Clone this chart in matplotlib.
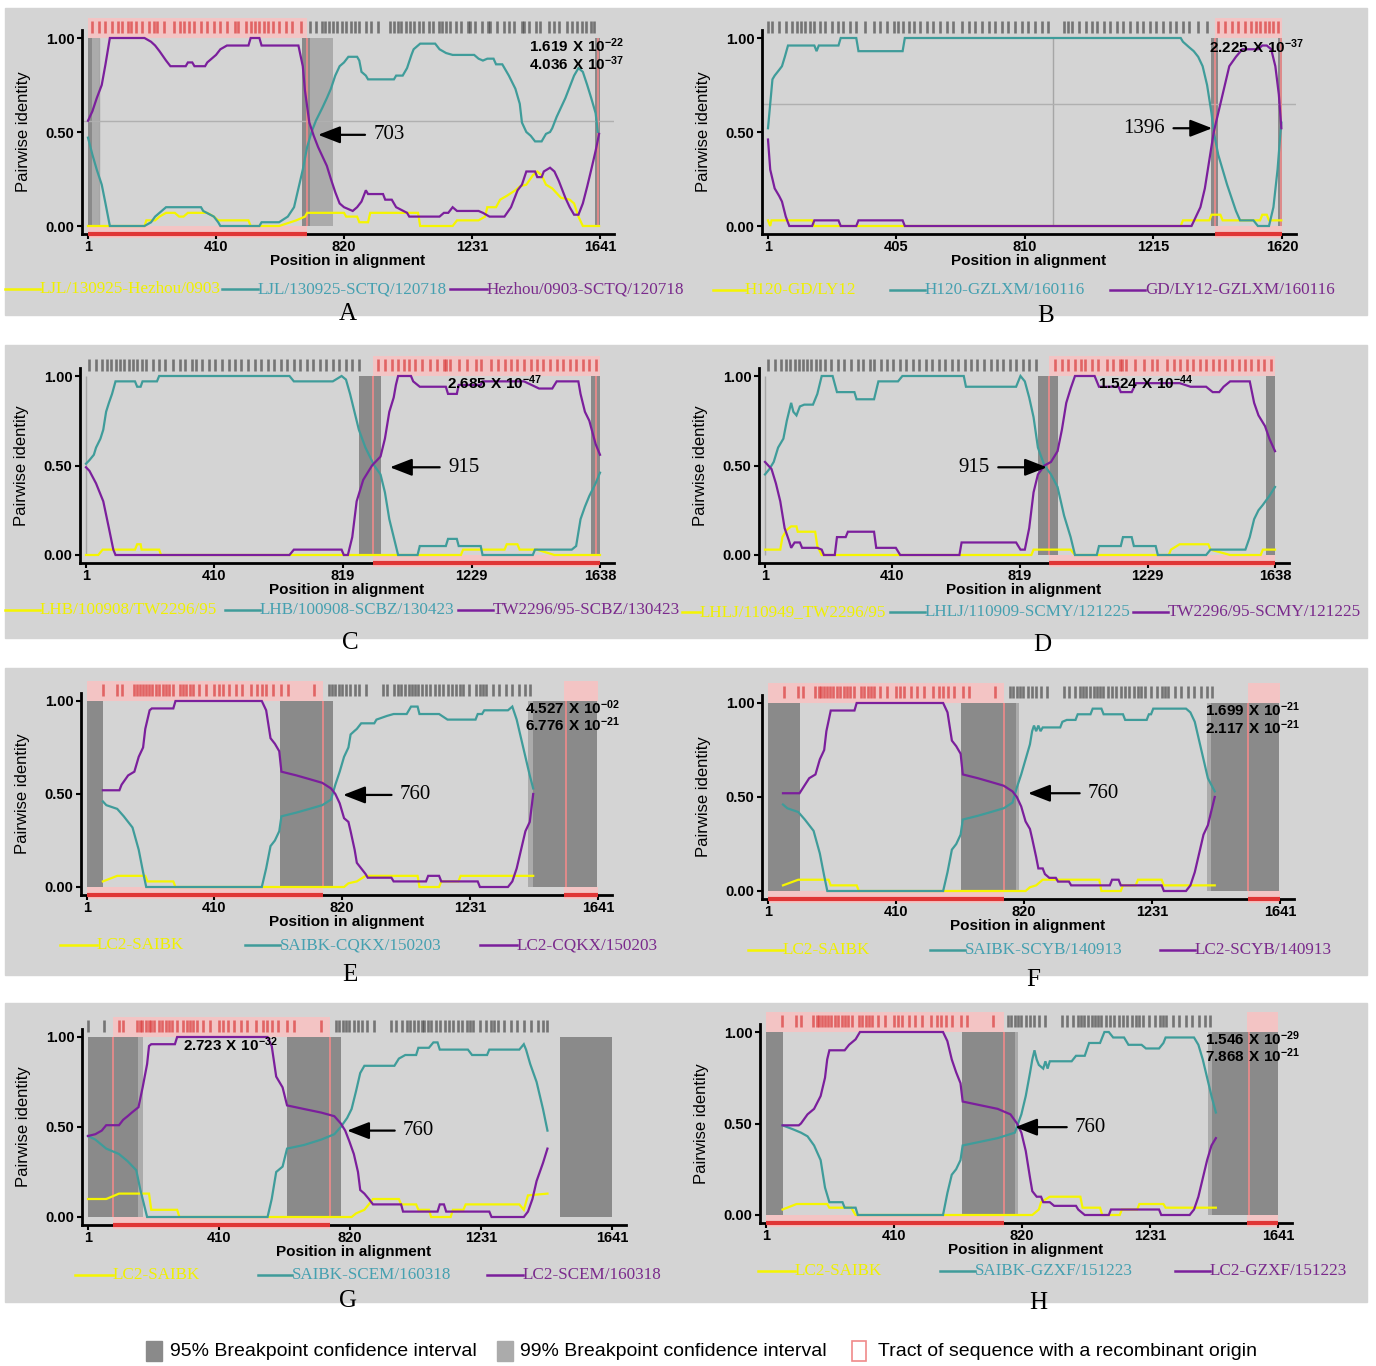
import matplotlib.pyplot as plt
from matplotlib.patches import Rectangle
from matplotlib.lines import Line2D

plt.rcParams['font.family'] = ['Liberation Sans', 'DejaVu Sans']
plt.rcParams['mathtext.fontset'] = 'custom'
plt.rcParams['mathtext.rm'] = 'Liberation Sans'
plt.rcParams['mathtext.bf'] = 'Liberation Sans:bold'
SERIF = ['Liberation Serif', 'DejaVu Serif']

BG = '#d4d4d4'
YEL, TEAL, PURP = '#f5f500', '#3f9c9a', '#7b1f9c'
YEL_TXT, TEAL_TXT, PURP_TXT = '#f0f000', '#45a0b0', '#7a2a8c'
DARK95, LIGHT99 = '#8a8a8a', '#ababab'
PINK, RED, BPLINE = '#f3c4c4', '#e03535', '#f08a8a'

# ---------------- data (position in alignment, pairwise identity) ----------------
a_yellow = [(1,0.0),(182,0.0),(188,0.03),(216,0.03),(230,0.05),(251,0.07),(279,0.07),(293,0.05),(307,0.05),
            (321,0.07),(383,0.07),(404,0.05),(418,0.03),(515,0.03),(522,0.0),(613,0.0),(668,0.03),(696,0.05),
            (703,0.07),(821,0.07),(828,0.05),(863,0.05),(870,0.02),(898,0.02),(905,0.07),(1058,0.07),(1065,0.0),
            (1169,0.0),(1183,0.03),(1252,0.03),(1273,0.05),(1280,0.1),(1308,0.1),(1321,0.14),(1342,0.16),
            (1370,0.19),(1384,0.21),(1405,0.22),(1426,0.27),(1440,0.29),(1454,0.27),(1468,0.22),(1488,0.2),
            (1516,0.15),(1544,0.14),(1558,0.12),(1572,0.05),(1586,0.0),(1638,0.0)]
a_teal = [(1,0.47),(15,0.38),(29,0.3),(45,0.22),(57,0.12),(71,0.0),(182,0.0),(203,0.02),(216,0.05),(230,0.07),
          (251,0.1),(363,0.1),(370,0.08),(404,0.05),(418,0.02),(425,0.0),(550,0.0),(557,0.02),(613,0.02),
          (641,0.05),(661,0.1),(675,0.2),(689,0.3),(703,0.42),(717,0.5),(731,0.56),(752,0.63),(766,0.68),
          (779,0.73),(793,0.8),(807,0.85),(821,0.87),(835,0.9),(863,0.9),(870,0.88),(877,0.82),(891,0.8),
          (898,0.78),(981,0.78),(988,0.8),(1009,0.8),(1023,0.84),(1037,0.91),(1044,0.94),(1065,0.97),
          (1113,0.97),(1127,0.94),(1148,0.92),(1169,0.91),(1238,0.91),(1252,0.89),(1266,0.88),(1280,0.89),
          (1300,0.89),(1308,0.86),(1328,0.86),(1349,0.8),(1370,0.73),(1384,0.65),(1391,0.55),(1405,0.5),
          (1419,0.48),(1433,0.45),(1454,0.45),(1468,0.49),(1481,0.5),(1488,0.52),(1502,0.58),(1516,0.63),
          (1530,0.68),(1544,0.74),(1558,0.8),(1572,0.84),(1586,0.82),(1600,0.75),(1613,0.68),(1627,0.6),
          (1634,0.5)]
a_purple = [(1,0.56),(15,0.61),(29,0.68),(45,0.75),(57,0.86),(71,1.0),(182,1.0),(203,0.98),(216,0.96),
            (230,0.93),(251,0.88),(265,0.85),(314,0.85),(321,0.87),(335,0.87),(342,0.85),(376,0.85),(383,0.87),
            (397,0.89),(411,0.91),(425,0.94),(446,0.96),(515,0.96),(522,1.0),(550,1.0),(557,0.96),(675,0.96),
            (689,0.85),(696,0.72),(710,0.55),(724,0.48),(738,0.42),(752,0.37),(766,0.32),(779,0.25),(793,0.18),
            (807,0.12),(821,0.1),(849,0.08),(863,0.1),(877,0.13),(891,0.19),(898,0.17),(946,0.17),(953,0.14),
            (974,0.14),(988,0.1),(1023,0.07),(1030,0.05),(1127,0.05),(1141,0.07),(1155,0.07),(1169,0.1),
            (1183,0.08),(1252,0.08),(1266,0.07),(1287,0.05),(1335,0.05),(1356,0.1),(1377,0.19),(1391,0.22),
            (1405,0.29),(1433,0.29),(1440,0.26),(1454,0.26),(1461,0.29),(1481,0.31),(1495,0.29),(1509,0.24),
            (1530,0.15),(1544,0.1),(1558,0.06),(1572,0.06),(1586,0.12),(1600,0.21),(1613,0.3),(1627,0.4),
            (1638,0.49)]

b_yellow = [(1,0.03),(8,0.0),(12,0.03),(140,0.03),(147,0.0),(1301,0.0),(1308,0.03),(1391,0.03),(1398,0.06),
            (1426,0.06),(1433,0.03),(1551,0.03),(1558,0.06),(1572,0.06),(1579,0.03),(1618,0.03)]
b_teal = [(1,0.52),(8,0.65),(15,0.78),(22,0.8),(36,0.83),(45,0.85),(54,0.9),(64,0.96),(147,0.96),(154,0.93),
          (161,0.96),(223,0.96),(230,1.0),(279,1.0),(286,0.93),(425,0.93),(432,1.0),(1301,1.0),(1308,0.98),
          (1328,0.95),(1342,0.93),(1356,0.9),(1370,0.85),(1384,0.75),(1398,0.6),(1405,0.5),(1419,0.38),
          (1433,0.3),(1447,0.22),(1461,0.15),(1475,0.08),(1488,0.03),(1530,0.03),(1544,0.0),(1579,0.0),
          (1593,0.1),(1606,0.3),(1613,0.45),(1618,0.55)]
b_purple = [(1,0.46),(8,0.3),(15,0.25),(22,0.2),(36,0.16),(45,0.13),(57,0.05),(68,0.0),(140,0.0),(147,0.03),
            (223,0.03),(230,0.0),(279,0.0),(286,0.03),(425,0.03),(432,0.0),(1335,0.0),(1349,0.05),(1363,0.1),
            (1377,0.2),(1391,0.35),(1405,0.5),(1419,0.6),(1440,0.75),(1454,0.85),(1475,0.9),(1495,0.94),
            (1544,0.94),(1558,0.96),(1572,0.96),(1586,0.94),(1599,0.85),(1610,0.7),(1618,0.52)]

c_yellow = [(1,0.0),(40,0.0),(54,0.03),(157,0.03),(164,0.06),(175,0.06),(178,0.03),(234,0.03),(240,0.0),
            (1195,0.0),(1202,0.03),(1334,0.03),(1341,0.06),(1375,0.06),(1382,0.03),(1437,0.03),(1493,0.0),
            (1638,0.0)]
c_teal = [(1,0.51),(12,0.53),(26,0.56),(33,0.6),(47,0.65),(56,0.7),(65,0.8),(74,0.85),(84,0.9),(95,0.97),
          (157,0.97),(164,0.94),(175,0.94),(181,0.97),(227,0.97),(234,1.0),(649,1.0),(663,0.97),(787,0.97),
          (815,1.0),(829,0.98),(842,0.9),(856,0.8),(870,0.7),(891,0.6),(919,0.5),(939,0.45),(953,0.35),
          (967,0.2),(981,0.1),(995,0.0),(1057,0.0),(1064,0.05),(1147,0.05),(1154,0.09),(1182,0.09),(1188,0.05),
          (1258,0.05),(1264,0.0),(1424,0.0),(1431,0.03),(1548,0.03),(1562,0.05),(1576,0.2),(1590,0.27),
          (1604,0.33),(1624,0.4),(1638,0.46)]
c_purple = [(1,0.49),(12,0.47),(33,0.4),(56,0.3),(74,0.15),(88,0.03),(95,0.0),(649,0.0),(663,0.03),(815,0.03),
            (822,0.0),(835,0.0),(849,0.1),(863,0.3),(884,0.42),(912,0.5),(939,0.55),(953,0.65),(967,0.8),
            (981,0.88),(988,0.95),(995,1.0),(1036,1.0),(1043,0.97),(1064,0.94),(1147,0.94),(1154,0.9),
            (1182,0.9),(1188,0.95),(1258,0.95),(1264,0.97),(1396,0.97),(1444,0.93),(1486,0.93),(1500,0.97),
            (1569,0.97),(1576,0.9),(1590,0.8),(1604,0.75),(1624,0.62),(1638,0.56)]

d_yellow = [(1,0.03),(50,0.03),(57,0.1),(71,0.14),(85,0.16),(102,0.16),(106,0.13),(162,0.13),(169,0.05),
            (183,0.0),(856,0.0),(863,0.03),(982,0.03),(996,0.0),(1297,0.0),(1304,0.03),(1332,0.06),(1424,0.06),
            (1431,0.03),(1494,0.0),(1592,0.0),(1599,0.03),(1638,0.03)]
d_teal = [(1,0.45),(15,0.48),(29,0.52),(43,0.6),(60,0.65),(71,0.75),(85,0.85),(92,0.8),(102,0.78),(113,0.83),
          (127,0.84),(155,0.84),(169,0.9),(183,1.0),(218,1.0),(232,0.91),(288,0.91),(295,0.87),(351,0.87),
          (365,0.97),(428,0.97),(442,1.0),(639,1.0),(646,0.94),(807,0.94),(821,1.0),(835,0.97),(849,0.88),
          (863,0.77),(877,0.6),(898,0.5),(919,0.45),(940,0.38),(961,0.22),(982,0.1),(996,0.0),(1066,0.0),
          (1073,0.05),(1143,0.05),(1150,0.1),(1178,0.1),(1185,0.05),(1255,0.05),(1262,0.0),(1417,0.0),
          (1431,0.03),(1543,0.03),(1557,0.1),(1571,0.2),(1585,0.25),(1599,0.28),(1620,0.33),(1638,0.38)]
d_purple = [(1,0.52),(22,0.48),(36,0.4),(50,0.3),(64,0.15),(78,0.08),(85,0.04),(96,0.07),(113,0.07),(120,0.04),
            (169,0.04),(183,0.03),(190,0.0),(225,0.0),(232,0.1),(260,0.1),(267,0.13),(351,0.13),(358,0.04),
            (421,0.04),(435,0.0),(625,0.0),(632,0.07),(807,0.07),(821,0.03),(835,0.03),(849,0.15),(863,0.35),
            (877,0.45),(898,0.5),(919,0.52),(940,0.58),(954,0.7),(968,0.85),(982,0.93),(996,1.0),(1059,1.0),
            (1073,0.94),(1136,0.94),(1143,0.91),(1178,0.91),(1192,0.96),(1332,0.96),(1367,0.94),(1417,0.94),
            (1438,0.91),(1459,0.91),(1473,0.94),(1494,0.97),(1557,0.97),(1571,0.85),(1585,0.78),(1606,0.72),
            (1620,0.65),(1638,0.58)]

e_yellow = [(52,0.03),(98,0.06),(188,0.06),(195,0.03),(278,0.03),(285,0.0),(826,0.0),(840,0.02),(867,0.03),
            (895,0.06),(1062,0.06),(1068,0.0),(1131,0.0),(1138,0.03),(1193,0.03),(1200,0.06),(1366,0.06),
            (1433,0.06)]
e_teal = [(52,0.46),(63,0.44),(98,0.42),(119,0.38),(147,0.32),(167,0.2),(181,0.08),(191,0.0),(562,0.0),
          (576,0.1),(590,0.22),(604,0.25),(618,0.3),(625,0.38),(673,0.4),(715,0.42),(756,0.44),(784,0.47),
          (798,0.55),(812,0.62),(826,0.7),(840,0.75),(847,0.82),(860,0.84),(867,0.85),(881,0.88),(923,0.88),
          (930,0.9),(964,0.92),(985,0.93),(1027,0.93),(1041,0.97),(1062,0.97),(1068,0.93),(1131,0.93),
          (1158,0.9),(1248,0.9),(1255,0.93),(1269,0.93),(1276,0.95),(1352,0.95),(1366,0.97),(1380,0.9),
          (1394,0.8),(1408,0.7),(1422,0.6),(1433,0.53)]
e_purple = [(52,0.52),(105,0.52),(112,0.55),(133,0.6),(153,0.62),(167,0.7),(181,0.75),(188,0.85),(202,0.95),
            (209,0.96),(278,0.96),(285,1.0),(562,1.0),(576,0.95),(590,0.8),(604,0.77),(618,0.73),(625,0.62),
            (673,0.6),(715,0.58),(756,0.56),(784,0.53),(798,0.5),(812,0.45),(826,0.37),(840,0.35),(847,0.3),
            (860,0.2),(867,0.13),(881,0.1),(895,0.07),(902,0.05),(978,0.05),(985,0.03),(1089,0.03),(1096,0.06),
            (1131,0.06),(1138,0.03),(1255,0.03),(1262,0.0),(1352,0.0),(1366,0.03),(1380,0.1),(1394,0.2),
            (1408,0.3),(1422,0.35),(1433,0.5)]

f_yellow = [(49,0.03),(98,0.06),(195,0.06),(202,0.03),(285,0.03),(292,0.0),(826,0.0),(840,0.02),(860,0.03),
            (881,0.06),(1062,0.06),(1069,0.0),(1131,0.0),(1138,0.03),(1179,0.03),(1186,0.06),(1262,0.06),
            (1269,0.03),(1432,0.03)]
f_teal = [(49,0.46),(63,0.44),(98,0.42),(119,0.38),(147,0.32),(167,0.2),(181,0.08),(191,0.0),(562,0.0),
          (576,0.1),(590,0.22),(604,0.25),(618,0.3),(625,0.38),(673,0.4),(715,0.42),(756,0.44),(784,0.47),
          (798,0.55),(812,0.62),(826,0.7),(840,0.78),(847,0.85),(853,0.88),(860,0.85),(867,0.88),(874,0.85),
          (881,0.87),(937,0.87),(944,0.9),(958,0.91),(986,0.91),(993,0.94),(1034,0.94),(1041,0.97),(1069,0.97),
          (1076,0.94),(1138,0.94),(1145,0.91),(1214,0.91),(1221,0.94),(1228,0.94),(1235,0.97),(1340,0.97),
          (1354,0.95),(1368,0.9),(1382,0.8),(1396,0.7),(1410,0.6),(1432,0.53)]
f_purple = [(49,0.52),(102,0.52),(133,0.6),(153,0.62),(167,0.7),(181,0.75),(188,0.85),(202,0.96),(278,0.96),
            (285,1.0),(562,1.0),(576,0.95),(590,0.8),(604,0.77),(618,0.73),(625,0.62),(673,0.6),(715,0.58),
            (756,0.56),(784,0.53),(798,0.5),(812,0.45),(826,0.37),(840,0.33),(847,0.28),(860,0.18),(867,0.12),
            (881,0.12),(888,0.09),(902,0.07),(923,0.07),(930,0.05),(965,0.05),(972,0.03),(1096,0.03),(1103,0.06),
            (1124,0.06),(1131,0.03),(1262,0.03),(1269,0.0),(1340,0.0),(1354,0.03),(1368,0.1),(1382,0.2),
            (1396,0.3),(1410,0.35),(1432,0.5)]

g_yellow = [(1,0.1),(58,0.1),(85,0.12),(98,0.13),(192,0.13),(199,0.04),(280,0.04),(287,0.0),(826,0.0),
            (840,0.02),(866,0.04),(880,0.07),(893,0.1),(974,0.1),(981,0.07),(1028,0.07),(1035,0.04),(1068,0.04),
            (1075,0.0),(1136,0.0),(1143,0.04),(1176,0.04),(1183,0.07),(1351,0.07),(1365,0.04),(1378,0.12),
            (1439,0.13)]
g_teal = [(1,0.45),(24,0.43),(58,0.38),(98,0.35),(125,0.31),(152,0.26),(165,0.15),(179,0.05),(186,0.0),
          (563,0.0),(576,0.1),(590,0.25),(610,0.28),(624,0.38),(677,0.4),(731,0.43),(772,0.46),(792,0.5),
          (812,0.55),(826,0.6),(840,0.7),(853,0.8),(866,0.84),(960,0.84),(974,0.88),(994,0.9),(1028,0.9),
          (1035,0.94),(1068,0.94),(1082,0.97),(1095,0.97),(1102,0.93),(1190,0.93),(1203,0.9),(1250,0.9),
          (1257,0.93),(1351,0.93),(1365,0.96),(1372,0.93),(1385,0.85),(1405,0.75),(1425,0.6),(1439,0.48)]
g_purple = [(1,0.45),(24,0.46),(44,0.48),(58,0.51),(98,0.51),(111,0.54),(125,0.56),(138,0.58),(159,0.61),
            (172,0.72),(186,0.85),(192,0.95),(199,0.96),(273,0.96),(280,1.0),(563,1.0),(576,0.95),(590,0.78),
            (610,0.72),(624,0.62),(677,0.6),(731,0.58),(772,0.56),(792,0.52),(806,0.48),(819,0.42),(833,0.35),
            (846,0.25),(853,0.15),(866,0.13),(880,0.1),(893,0.07),(981,0.07),(987,0.03),(1095,0.03),(1102,0.07),
            (1115,0.07),(1122,0.03),(1257,0.03),(1264,0.0),(1365,0.0),(1378,0.03),(1392,0.1),(1405,0.2),
            (1425,0.3),(1439,0.38)]

h_yellow = [(54,0.03),(99,0.06),(197,0.06),(204,0.04),(274,0.04),(288,0.0),(854,0.0),(875,0.03),(882,0.07),
            (910,0.1),(1008,0.1),(1015,0.04),(1071,0.04),(1078,0.0),(1134,0.0),(1141,0.03),(1190,0.03),
            (1197,0.06),(1274,0.06),(1281,0.04),(1442,0.04)]
h_teal = [(54,0.49),(85,0.47),(113,0.45),(134,0.43),(155,0.38),(176,0.3),(190,0.15),(204,0.07),(246,0.07),
          (253,0.04),(288,0.04),(295,0.0),(568,0.0),(582,0.12),(596,0.22),(610,0.25),(624,0.3),(631,0.38),
          (687,0.4),(743,0.42),(798,0.45),(819,0.55),(833,0.65),(847,0.78),(854,0.85),(861,0.9),(868,0.85),
          (875,0.82),(889,0.8),(896,0.84),(903,0.8),(910,0.84),(980,0.84),(994,0.87),(1022,0.87),(1036,0.94),
          (1071,0.94),(1085,1.0),(1099,1.0),(1113,0.97),(1148,0.97),(1162,0.93),(1204,0.93),(1218,0.91),
          (1260,0.91),(1274,0.94),(1281,0.97),(1372,0.97),(1386,0.93),(1400,0.85),(1414,0.75),(1428,0.65),
          (1442,0.56)]
h_purple = [(54,0.49),(106,0.49),(113,0.5),(134,0.55),(155,0.58),(176,0.65),(190,0.75),(197,0.85),(204,0.9),
            (253,0.9),(267,0.93),(288,0.96),(302,1.0),(568,1.0),(582,0.95),(596,0.85),(610,0.78),(624,0.72),
            (631,0.62),(687,0.6),(743,0.58),(784,0.55),(805,0.5),(819,0.45),(833,0.35),(847,0.2),(854,0.13),
            (868,0.1),(882,0.1),(889,0.07),(910,0.07),(924,0.05),(994,0.05),(1001,0.03),(1022,0.0),(1099,0.0),
            (1106,0.03),(1260,0.03),(1267,0.0),(1358,0.0),(1372,0.03),(1386,0.1),(1400,0.2),(1414,0.3),
            (1428,0.38),(1442,0.42)]

# informative sites shown in the strip above each plot
sites_a = [15,36,57,77,98,109,129,140,154,175,196,212,223,244,276,296,307,324,342,363,383,404,425,446,471,481,
           508,522,536,550,564,578,592,613,634,655,682,713,731,749,759,773,786,800,814,828,842,856,870,891,907,
           929,967,981,995,1004,1018,1032,1046,1060,1074,1092,1106,1124,1134,1148,1162,1180,1197,1217,1226,1240,
           1262,1281,1290,1311,1335,1349,1366,1390,1398,1415,1436,1450,1477,1493,1509,1534,1551,1566,1583,1597,
           1611,1622]
sites_b = [1,15,36,57,77,91,105,119,133,147,165,182,203,221,237,258,279,307,335,355,376,397,411,425,446,460,481,
           501,522,543,564,585,613,633,654,675,696,717,738,758,779,800,821,842,863,884,932,946,960,981,1002,1023,
           1037,1058,1078,1099,1120,1141,1162,1183,1203,1224,1245,1266,1287,1308,1328,1356,1384,1419,1440,1461,
           1482,1502,1523,1537,1551,1565,1579,1593,1606]
sites_cd = [12,33,51,67,81,98,109,123,137,150,164,178,192,213,234,254,278,300,317,337,351,372,393,413,434,455,476,
            496,517,538,559,580,600,621,642,663,683,704,725,746,766,787,808,829,849,870,932,953,974,995,1015,1029,
            1050,1071,1098,1119,1140,1147,1161,1188,1216,1244,1258,1292,1313,1334,1355,1375,1396,1417,1438,1458,
            1479,1500,1521,1541,1562,1583,1604,1624]
sites_lc2 = [52,98,112,153,163,171,181,191,199,209,223,232,244,255,264,278,299,310,320,330,341,361,382,410,424,438,
             458,479,500,528,548,562,576,597,625,645,729,777,787,798,809,819,833,846,860,874,895,950,964,985,999,
             1009,1020,1034,1045,1054,1064,1075,1089,1103,1117,1131,1144,1158,1172,1186,1197,1207,1228,1248,1262,
             1272,1283,1304,1324,1345,1366,1387,1408,1424]
sites_g = [1,51] + sites_lc2[1:] + [1439]

panels = [
    dict(frame=(88, 600, 38, 226), ticks=[1, 410, 820, 1231, 1641],
         curves=[a_yellow, a_teal, a_purple], sites=sites_a,
         tract=[(1, 703)], ci95=[(1, 14), (685, 712), (1625, 1641)], ci99=[(14, 40), (712, 785)],
         bp=[703, 1636], cross_v=[37], cross_h=[0.56],
         pvals=[r'$\mathbf{1.619\ X\ 10^{-22}}$', r'$\mathbf{4.036\ X\ 10^{-37}}$'], pv_x=1415, pv_y=[0.96, 0.865],
         arrow=('703', 738, 0.485, 915, 'left'),
         labels=['LJL/130925-Hezhou/0903', 'LJL/130925-SCTQ/120718', 'Hezhou/0903-SCTQ/120718'],
         leg_y=289, leg_line=[5, 222, 450], leg_text=[40, 258, 487], letter=('A', 348, 314)),
    dict(frame=(768, 1282, 38, 226), ticks=[1, 405, 810, 1215, 1620],
         curves=[b_yellow, b_teal, b_purple], sites=sites_b,
         tract=[(1408, 1620)], ci95=[(1396, 1418), (1606, 1620)], ci99=[],
         bp=[1410, 1616], cross_v=[899], cross_h=[0.65],
         pvals=[r'$\mathbf{2.225\ X\ 10^{-37}}$'], pv_x=1390, pv_y=[0.955],
         arrow=('1396', 1400, 0.52, 1252, 'right'),
         labels=['H120-GD/LY12', 'H120-GZLXM/160116', 'GD/LY12-GZLXM/160116'],
         leg_y=290, leg_line=[713, 890, 1110], leg_text=[745, 925, 1145], letter=('B', 1046, 316)),
    dict(frame=(86, 600, 376, 555), ticks=[1, 410, 819, 1229, 1638],
         curves=[c_yellow, c_teal, c_purple], sites=sites_cd,
         tract=[(915, 1638)], ci95=[(870, 940), (1610, 1638)], ci99=[],
         bp=[915, 1624], cross_v=[1], cross_h=[],
         pvals=[r'$\mathbf{2.685\ X\ 10^{-47}}$'], pv_x=1150, pv_y=[0.96],
         arrow=('915', 969, 0.49, 1154, 'left'),
         labels=['LHB/100908/TW2296/95', 'LHB/100908-SCBZ/130423', 'TW2296/95-SCBZ/130423'],
         leg_y=610, leg_line=[5, 225, 458], leg_text=[40, 260, 493], letter=('C', 350, 643)),
    dict(frame=(765, 1275, 376, 555), ticks=[1, 410, 819, 1229, 1638],
         curves=[d_yellow, d_teal, d_purple], sites=sites_cd,
         tract=[(912, 1638)], ci95=[(877, 940), (1610, 1638)], ci99=[],
         bp=[912], cross_v=[1], cross_h=[],
         pvals=[r'$\mathbf{1.524\ X\ 10^{-44}}$'], pv_x=1070, pv_y=[0.96],
         arrow=('915', 906, 0.49, 723, 'right'),
         labels=['LHLJ/110949_TW2296/95', 'LHLJ/110909-SCMY/121225', 'TW2296/95-SCMY/121225'],
         leg_y=612, leg_line=[682, 890, 1133], leg_text=[700, 925, 1168], letter=('D', 1042, 645)),
    dict(frame=(87, 598, 701, 887), ticks=[1, 410, 820, 1231, 1641],
         curves=[e_yellow, e_teal, e_purple], sites=sites_lc2,
         tract=[(1, 759), (1533, 1641)], ci95=[(1, 52), (620, 791), (1433, 1637)], ci99=[(1415, 1433)],
         bp=[759, 1539], cross_v=[], cross_h=[],
         pvals=[r'$\mathbf{4.527\ X\ 10^{-02}}$', r'$\mathbf{6.776\ X\ 10^{-21}}$'], pv_x=1407, pv_y=[0.965, 0.87],
         arrow=('760', 823, 0.495, 1005, 'left'),
         labels=['LC2-SAIBK', 'SAIBK-CQKX/150203', 'LC2-CQKX/150203'],
         leg_y=945, leg_line=[60, 245, 480], leg_text=[97, 280, 517], letter=('E', 350, 975)),
    dict(frame=(768, 1280, 703, 891), ticks=[1, 410, 820, 1231, 1641],
         curves=[f_yellow, f_teal, f_purple], sites=sites_lc2,
         tract=[(1, 756), (1539, 1641)], ci95=[(1, 102), (619, 794), (1420, 1638)], ci99=[(794, 804), (1408, 1420)],
         bp=[756, 1539], cross_v=[], cross_h=[],
         pvals=[r'$\mathbf{1.699\ X\ 10^{-21}}$', r'$\mathbf{2.117\ X\ 10^{-21}}$'], pv_x=1401, pv_y=[0.965, 0.87],
         arrow=('760', 834, 0.52, 1026, 'left'),
         labels=['LC2-SAIBK', 'SAIBK-SCYB/140913', 'LC2-SCYB/140913'],
         leg_y=950, leg_line=[748, 930, 1160], leg_text=[783, 965, 1195], letter=('F', 1033, 980)),
    dict(frame=(88, 612, 1037, 1217), ticks=[1, 410, 820, 1231, 1641],
         curves=[g_yellow, g_teal, g_purple], sites=sites_g,
         tract=[(78, 758)], ci95=[(1, 159), (624, 792), (1479, 1641)], ci99=[(159, 172)],
         bp=[78, 758], cross_v=[], cross_h=[],
         pvals=[r'$\mathbf{2.723\ X\ 10^{-32}}$'], pv_x=298, pv_y=[0.955],
         arrow=('760', 812, 0.48, 987, 'left'),
         labels=['LC2-SAIBK', 'SAIBK-SCEM/160318', 'LC2-SCEM/160318'],
         leg_y=1275, leg_line=[75, 258, 487], leg_text=[113, 292, 523], letter=('G', 348, 1301)),
    dict(frame=(766, 1278, 1032, 1215), ticks=[1, 410, 820, 1231, 1641],
         curves=[h_yellow, h_teal, h_purple], sites=sites_lc2,
         tract=[(1, 763), (1543, 1641)], ci95=[(1, 54), (628, 798), (1428, 1641)], ci99=[(798, 808), (1418, 1428)],
         bp=[763, 1547], cross_v=[], cross_h=[],
         pvals=[r'$\mathbf{1.546\ X\ 10^{-29}}$', r'$\mathbf{7.868\ X\ 10^{-21}}$'], pv_x=1407, pv_y=[0.965, 0.87],
         arrow=('760', 799, 0.48, 991, 'left'),
         labels=['LC2-SAIBK', 'SAIBK-GZXF/151223', 'LC2-GZXF/151223'],
         leg_y=1271, leg_line=[758, 940, 1175], leg_text=[795, 975, 1210], letter=('H', 1038, 1303)),
]

W, H = 1376, 1366
fig = plt.figure(figsize=(W / 100, H / 100), dpi=100)

# grey strips behind each row of panels
for top, bot in [(8, 315), (345, 638), (668, 975), (1003, 1302)]:
    fig.add_artist(Rectangle((5 / W, 1 - bot / H), 1362 / W, (bot - top) / H,
                             transform=fig.transFigure, color=BG, zorder=-5))


def draw_panel(p):
    x1, x2, y1, y0 = p['frame']
    xmax = p['ticks'][-1]
    sx = (x2 - x1) / (xmax - 1)
    sy = y0 - y1
    left, right, bottom, top = x1 - 6, x2 + 14, y0 + 8, y1 - 26
    ax = fig.add_axes([left / W, 1 - bottom / H, (right - left) / W, (bottom - top) / H])
    ax.set_facecolor('none')
    ax.set_xlim(1 - 6 / sx, xmax + 14 / sx)
    ybot = -8 / sy
    ax.set_ylim(ybot, 1 + 26 / sy)

    # recombinant tract (top and bottom bands)
    for a, b in p['tract']:
        ax.add_patch(Rectangle((a, 1.0), b - a, 20 / sy, color=PINK, zorder=0.5, lw=0))
        ax.add_patch(Rectangle((a, ybot - 4 / sy), b - a, -ybot + 4 / sy, color=PINK, zorder=0.5,
                               lw=0, clip_on=False))
        ax.plot([a, b], [ybot, ybot], color=RED, lw=3, zorder=5, clip_on=False, solid_capstyle='butt')
    for a, b in p['ci99']:
        ax.add_patch(Rectangle((a, 0), b - a, 1, color=LIGHT99, zorder=1, lw=0))
    for a, b in p['ci95']:
        ax.add_patch(Rectangle((a, 0), b - a, 1, color=DARK95, zorder=1.1, lw=0))
    ax.vlines(p['bp'], 0, 1, color=BPLINE, lw=1.2, zorder=1.5)
    for v in p['cross_v']:
        ax.vlines(v, 0, 1, color='#a6a6a6', lw=1, zorder=1.2)
    for h in p['cross_h']:
        ax.axhline(h, color='#b0b0b0', lw=1, zorder=1.2)

    for pts, col in zip(p['curves'], [YEL, TEAL, PURP]):
        xs = [q[0] for q in pts]
        ys = [q[1] for q in pts]
        ax.plot(xs, ys, color=col, lw=1.6, zorder=3, solid_joinstyle='miter')

    # informative-site strip
    cols = []
    for s in p['sites']:
        inside = any(a <= s <= b for a, b in p['tract'])
        cols.append('#d62a2a' if inside else '#3a3a3a')
    ax.vlines(p['sites'], 1 + 5 / sy, 1 + 17 / sy, colors=cols, lw=1.9, alpha=0.62, zorder=2)

    for s in ['top', 'right']:
        ax.spines[s].set_visible(False)
    for s in ['left', 'bottom']:
        ax.spines[s].set_linewidth(2)
    ax.spines['left'].set_bounds(ybot, 1 + 8 / sy)
    ax.set_yticks([0, 0.5, 1.0])
    ax.set_yticklabels(['0.00', '0.50', '1.00'], fontweight='bold')
    ax.set_xticks(p['ticks'])
    ax.set_xticklabels([str(t) for t in p['ticks']], fontweight='bold')
    ax.tick_params(direction='out', length=3.5, width=1.5, labelsize=10.5, pad=2)
    ax.tick_params(axis='x', pad=0.5)
    ax.set_xlabel('Position in alignment', fontsize=11, fontweight='bold', labelpad=0)
    ax.set_ylabel('Pairwise identity', fontsize=12)
    ax.yaxis.set_label_coords((x1 - 57 - left) / (right - left), (bottom - (y0 + y1) / 2) / (bottom - top))

    for txt, yy in zip(p['pvals'], p['pv_y']):
        ax.text(p['pv_x'], yy, txt, fontsize=11, ha='left', va='center', zorder=6)

    lab, hx, hy, tx, ha = p['arrow']
    ax.annotate(lab, xy=(hx, hy), xytext=(tx, hy), fontsize=15, family=SERIF, ha=ha, va='center', zorder=6,
                arrowprops=dict(arrowstyle='-|>,head_length=0.9,head_width=0.35', color='black', lw=1.6,
                                shrinkA=4, shrinkB=0))

    # legend below the panel
    y = 1 - p['leg_y'] / H
    for lx, tx2, lab2, col, tcol in zip(p['leg_line'], p['leg_text'], p['labels'],
                                       [YEL, TEAL, PURP], [YEL_TXT, TEAL_TXT, PURP_TXT]):
        fig.add_artist(Line2D([lx / W, tx2 / W], [y, y], transform=fig.transFigure, color=col, lw=1.8))
        fig.text(tx2 / W, y, lab2, color=tcol, fontsize=12.3, family=SERIF, ha='left', va='center')

    let, lxp, lyp = p['letter']
    fig.text(lxp / W, 1 - lyp / H, let, fontsize=18, family=SERIF, ha='center', va='center')


for p in panels:
    draw_panel(p)

# bottom key
key_y = 1351
fig.add_artist(Rectangle((146 / W, 1 - (key_y + 10) / H), 16 / W, 20 / H, transform=fig.transFigure,
                         color=DARK95))
fig.text(170 / W, 1 - key_y / H, '95% Breakpoint confidence interval', fontsize=14, va='center', ha='left')
fig.add_artist(Rectangle((497 / W, 1 - (key_y + 10) / H), 16 / W, 20 / H, transform=fig.transFigure,
                         color=LIGHT99))
fig.text(520 / W, 1 - key_y / H, '99% Breakpoint confidence interval', fontsize=14, va='center', ha='left')
fig.add_artist(Rectangle((852 / W, 1 - (key_y + 10) / H), 14 / W, 20 / H, transform=fig.transFigure,
                         facecolor='white', edgecolor='#f08a8a', lw=1.2))
fig.text(878 / W, 1 - key_y / H, 'Tract of sequence with a recombinant origin', fontsize=14, va='center',
         ha='left')

fig.savefig('out.png', dpi=100)
